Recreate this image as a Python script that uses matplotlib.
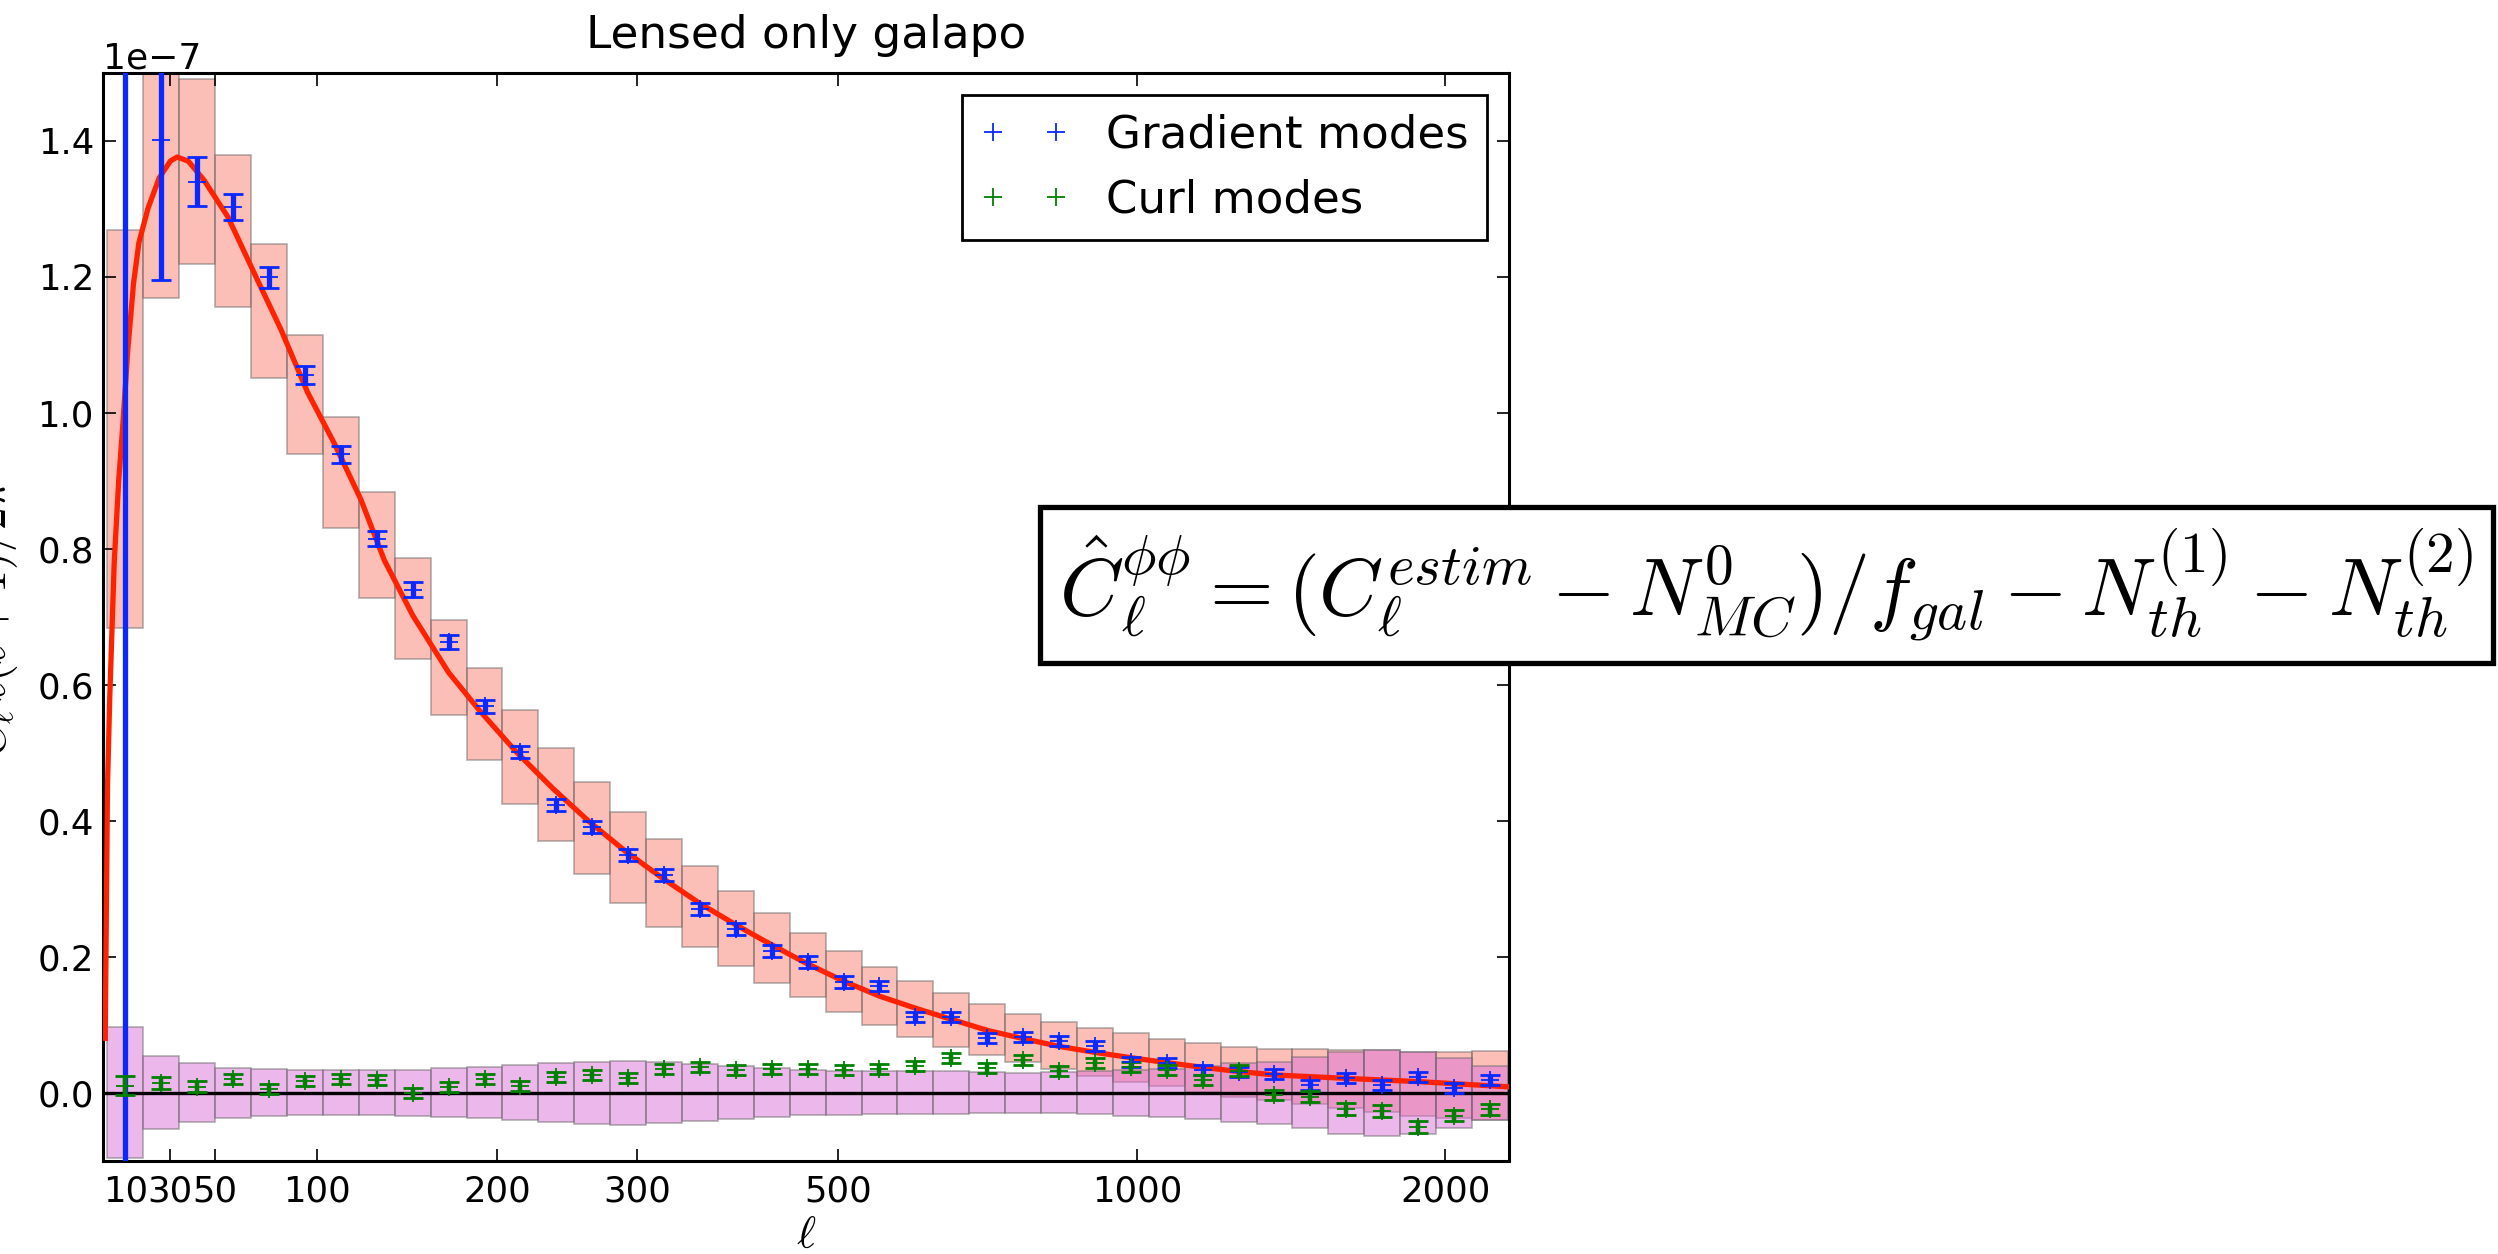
import numpy as np
import matplotlib

matplotlib.use("Agg")
import matplotlib.pyplot as plt
from matplotlib.ticker import NullLocator

plt.rcParams["mathtext.fontset"] = "cm"

SCALE = 1e-7

# multipole bin edges (39 bins); the x axis is linear in bin number
ELL_EDGES = np.array([2, 18, 34, 50, 67, 85, 103, 122, 142, 162,
                      182, 203, 226, 251, 278, 307, 338, 372, 408, 446,
                      485, 528, 576, 628, 684, 744, 808, 876, 948, 1024,
                      1114, 1214, 1322, 1438, 1560, 1688, 1822, 1962, 2107, 2257])
ELL_MAX = 2263
XTICKS = [10, 30, 50, 100, 200, 300, 500, 1000, 2000]

# theory curve (units of 1e-7)
THEORY_ELL = np.array([1, 2, 3, 4, 5, 7, 9, 11, 13.6, 16,
                       20, 25, 30, 33, 38, 45, 56, 68.6, 82, 95.3,
                       109, 123.2, 136.2, 152, 172, 189.6, 211.7, 236, 262.3, 290.8,
                       321.3, 354.7, 390.4, 417.5, 461.6, 506.5, 552, 603, 659, 715,
                       779, 843, 915, 991, 1072, 1169, 1271, 1386, 1624, 1899,
                       2251, 2263])
THEORY_VAL = np.array([0.08, 0.45, 0.58, 0.68, 0.78, 0.90, 0.99, 1.09, 1.19, 1.25,
                       1.30, 1.345, 1.37, 1.376, 1.37, 1.342, 1.288, 1.205, 1.122, 1.03,
                       0.955, 0.872, 0.783, 0.702, 0.618, 0.562, 0.5015, 0.4476, 0.3985, 0.3544,
                       0.3153, 0.2785, 0.2466, 0.2246, 0.192, 0.164, 0.142, 0.124, 0.107, 0.0915,
                       0.079, 0.068, 0.059, 0.051, 0.044, 0.037, 0.031, 0.026, 0.0211, 0.0162,
                       0.0088, 0.0085])

# expected scatter of the gradient estimator per bin (box top / bottom)
RED_HI = np.array([1.269, 1.51, 1.4907, 1.379, 1.2476, 1.1138, 0.9932, 0.8834, 0.786, 0.695,
                   0.625, 0.5628, 0.5065, 0.4565, 0.4128, 0.3726, 0.3334, 0.297, 0.2647, 0.2344,
                   0.2084, 0.1853, 0.1647, 0.147, 0.1309, 0.1162, 0.1044, 0.0947, 0.0873, 0.079,
                   0.0731, 0.0676, 0.0648, 0.0638, 0.0628, 0.0628, 0.0603, 0.0603, 0.0613])
RED_LO = np.array([0.683, 1.168, 1.218, 1.155, 1.0506, 0.9397, 0.830, 0.728, 0.638, 0.555,
                   0.490, 0.4241, 0.370, 0.3216, 0.2785, 0.2441, 0.2147, 0.1868, 0.1618, 0.1403,
                   0.118, 0.0996, 0.0824, 0.0676, 0.0554, 0.0447, 0.0344, 0.025, 0.0162, 0.0099,
                   0.001, -0.0056, -0.0107, -0.0166, -0.0229, -0.0289, -0.0338, -0.0368, -0.0401])

# expected scatter of the curl estimator (half height around zero)
MAG_HALF = np.array([0.0963, 0.0537, 0.0434, 0.037, 0.0346, 0.0331, 0.0331, 0.0331, 0.0339, 0.036,
                     0.0375, 0.0407, 0.0437, 0.0455, 0.047, 0.0451, 0.042, 0.039, 0.0358, 0.0335,
                     0.0321, 0.0312, 0.0316, 0.0316, 0.0302, 0.0296, 0.0298, 0.0315, 0.0336, 0.035,
                     0.039, 0.043, 0.0458, 0.0522, 0.0604, 0.0632, 0.06, 0.0512, 0.0397])

# first gradient bin lies off the top of the plot with a huge error bar
GRAD = np.array([1.6, 1.401, 1.34, 1.303, 1.199, 1.0555, 0.939, 0.815, 0.74, 0.663,
                 0.568, 0.5015, 0.423, 0.391, 0.3496, 0.320, 0.2697, 0.2403, 0.2084, 0.1917,
                 0.1633, 0.1569, 0.1118, 0.1118, 0.080, 0.0824, 0.0765, 0.0687, 0.0456, 0.0432,
                 0.0334, 0.031, 0.0275, 0.0113, 0.022, 0.0113, 0.0235, 0.0074, 0.0187])
GRAD_ERR = np.array([2.0, 0.206, 0.036, 0.019, 0.0155, 0.0133, 0.0123, 0.0113, 0.0105, 0.010,
                     0.0095, 0.009, 0.009, 0.009, 0.009, 0.009, 0.009, 0.009, 0.009, 0.009,
                     0.009, 0.0072, 0.0072, 0.0072, 0.0072, 0.0072, 0.0072, 0.0072, 0.0072, 0.0072,
                     0.0072, 0.0072, 0.0072, 0.0072, 0.0072, 0.0072, 0.0072, 0.0072, 0.0072])

CURL = np.array([0.0103, 0.0147, 0.0088, 0.0197, 0.0054, 0.0172, 0.0197, 0.0187, 0.0, 0.0088,
                 0.0206, 0.0103, 0.0235, 0.0255, 0.0211, 0.0353, 0.0373, 0.0334, 0.0353, 0.0353,
                 0.0334, 0.0353, 0.0392, 0.0515, 0.0358, 0.0481, 0.0324, 0.0432, 0.0382, 0.0334,
                 0.0187, 0.0324, -0.0034, -0.0059, -0.024, -0.0265, -0.05, -0.0338, -0.0245])
CURL_ERR = np.array([0.014, 0.0086, 0.0078, 0.0075, 0.0075, 0.0075, 0.0075, 0.0075, 0.0075, 0.0075,
                     0.0075, 0.0075, 0.0075, 0.0075, 0.0075, 0.0075, 0.0075, 0.0075, 0.0075, 0.0075,
                     0.0075, 0.0075, 0.0075, 0.0075, 0.0075, 0.0075, 0.0075, 0.0075, 0.0075, 0.0075,
                     0.008, 0.008, 0.008, 0.0085, 0.0085, 0.0085, 0.0088, 0.0085, 0.0085])

BLUE = "#0a28ff"
GREEN = "#008000"
RED = "#ff2200"

IDX = np.arange(len(ELL_EDGES), dtype=float)


def ell_to_bin(ell):
    ell = np.asarray(ell, dtype=float)
    u = np.interp(ell, ELL_EDGES, IDX)
    u = np.where(ell < ELL_EDGES[0],
                 (ell - ELL_EDGES[0]) / (ELL_EDGES[1] - ELL_EDGES[0]), u)
    u = np.where(ell > ELL_EDGES[-1],
                 IDX[-1] + (ell - ELL_EDGES[-1]) / (ELL_EDGES[-1] - ELL_EDGES[-2]), u)
    return u


def bin_to_ell(u):
    u = np.asarray(u, dtype=float)
    ell = np.interp(u, IDX, ELL_EDGES)
    ell = np.where(u < 0, ELL_EDGES[0] + u * (ELL_EDGES[1] - ELL_EDGES[0]), ell)
    ell = np.where(u > IDX[-1],
                   ELL_EDGES[-1] + (u - IDX[-1]) * (ELL_EDGES[-1] - ELL_EDGES[-2]), ell)
    return ell


fig = plt.figure(figsize=(24.98, 12.54), dpi=100)
ax = fig.add_axes([0.04123, 0.0744, 0.56297, 0.86762])
ax.set_xscale("function", functions=(ell_to_bin, bin_to_ell))

left = ELL_EDGES[:-1]
widths = np.diff(ELL_EDGES)
centers = 0.5 * (ELL_EDGES[:-1] + ELL_EDGES[1:])

ax.bar(left, (RED_HI - RED_LO) * SCALE, width=widths, bottom=RED_LO * SCALE,
       align="edge", color="salmon", alpha=0.5, edgecolor="0.4", linewidth=1.2, zorder=1)
ax.bar(left, 2 * MAG_HALF * SCALE, width=widths, bottom=-MAG_HALF * SCALE,
       align="edge", color="orchid", alpha=0.5, edgecolor="0.4", linewidth=1.2, zorder=1.1)
ax.axhline(0, color="k", lw=2.4, zorder=2)
ax.plot(THEORY_ELL, THEORY_VAL * SCALE, color=RED, lw=3.8, zorder=3)

ax.errorbar(centers, GRAD * SCALE, yerr=GRAD_ERR * SCALE, fmt="none", ecolor=BLUE,
            elinewidth=3.8, capsize=7, capthick=2, zorder=4)
ax.errorbar(centers, CURL * SCALE, yerr=CURL_ERR * SCALE, fmt="none", ecolor=GREEN,
            elinewidth=3.2, capsize=7, capthick=2, zorder=4)
ax.plot(centers, GRAD * SCALE, "+", color=BLUE, ms=12.5, mew=1.3,
        label="Gradient modes", zorder=5)
ax.plot(centers, CURL * SCALE, "+", color=GREEN, ms=12.5, mew=1.3,
        label="Curl modes", zorder=5)

ax.set_xlim(0, ELL_MAX)
ax.set_ylim(-0.1 * SCALE, 1.5 * SCALE)
ax.set_xticks(XTICKS, [str(t) for t in XTICKS])
ax.xaxis.set_minor_locator(NullLocator())
ax.set_yticks(np.arange(0, 8) * 0.2 * SCALE)

ax.tick_params(direction="in", top=True, right=True, length=9, width=1.2,
               labelsize=25.6)
ax.tick_params(axis="x", pad=10)
ax.tick_params(axis="y", pad=6.5)
ax.yaxis.get_offset_text().set_fontsize(26)
for sp in ax.spines.values():
    sp.set_linewidth(2.2)

ax.set_title("Lensed only galapo", fontsize=32.7, pad=17.8, y=1.0)
ax.set_xlabel(r"$\ell$", fontsize=33, labelpad=3)
ax.set_ylabel(r"$C_\ell\,\ell(\ell+1)/2\pi$", fontsize=33)
ax.yaxis.set_label_coords(-0.059, 0.5)

leg = ax.legend(loc="upper right", numpoints=2, fontsize=32.5, fancybox=False,
                edgecolor="k", framealpha=1)
leg.get_frame().set_linewidth(2)

fig.text(0.707, 0.5335,
         r"$\hat{C}_\ell^{\phi\phi} = (C_\ell^{estim} - N_{MC}^0)/f_{gal}"
         r" - N_{th}^{(1)} - N_{th}^{(2)}$",
         fontsize=59, ha="center", va="center",
         bbox=dict(boxstyle="square,pad=0.24", facecolor="white",
                   edgecolor="black", linewidth=3.8))

fig.savefig("out.png", dpi=100)
